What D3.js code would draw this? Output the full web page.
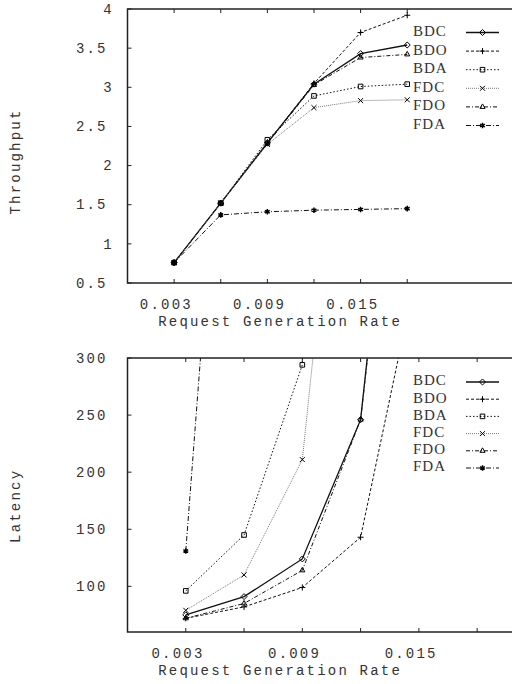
<!DOCTYPE html>
<html>
<head>
<meta charset="utf-8">
<script src="https://cdn.jsdelivr.net/npm/d3@7"></script>
<style>
  html, body { margin: 0; padding: 0; background: #fff; }
  svg { display: block; }
  .mono { font-family: "Liberation Mono", "DejaVu Sans Mono", monospace; font-size: 14px; letter-spacing: 2.2px; fill: #333; }
  .leg { font-family: "Liberation Serif", "DejaVu Serif", serif; font-size: 15px; letter-spacing: 1px; fill: #333; }
</style>
</head>
<body>
<svg id="chart" width="512" height="684"></svg>
<script>
// Request generation rates (x values shared by both panels)
const rates = [0.003, 0.006, 0.009, 0.012, 0.015, 0.018];
const seriesNames = ["BDC", "BDO", "BDA", "FDC", "FDO", "FDA"];

// Throughput per scheme
const thrBDC = [0.76, 1.52, 2.29, 3.04, 3.43, 3.54];
const thrBDO = [0.76, 1.52, 2.29, 3.05, 3.70, 3.92];
const thrBDA = [0.76, 1.52, 2.33, 2.89, 3.01, 3.04];
const thrFDC = [0.76, 1.52, 2.27, 2.74, 2.83, 2.84];
const thrFDO = [0.76, 1.52, 2.28, 3.03, 3.38, 3.42];
const thrFDA = [0.76, 1.37, 1.41, 1.43, 1.44, 1.45];

// Latency per scheme (values past the top of the axis run off the panel)
const latBDC = [75, 91, 124, 246, 720];
const latBDO = [72, 82, 99, 143, 385];
const latBDA = [96, 145, 294, 1500];
const latFDC = [79, 110, 211, 700];
const latFDO = [72, 85, 114, 246, 700];
const latFDA = [131, 800];

// Tick values and labels
const xTickVals = [0.003, 0.006, 0.009, 0.012, 0.015, 0.018];
const xTickLabels = ["0.003", "", "0.009", "", "0.015", ""];
const thrTicks = [0.5, 1, 1.5, 2, 2.5, 3, 3.5, 4];
const thrTickLabels = ["0.5", "1", "1.5", "2", "2.5", "3", "3.5", "4"];
const latTicks = [100, 150, 200, 250, 300];
const latTickLabels = ["100", "150", "200", "250", "300"];

const svg = d3.select("#chart");

// Line style and marker per scheme
const styles = {
  BDC: { dash: null, color: "#111", width: 1.3, sym: d3.symbolDiamond2, size: 23 },
  BDO: { dash: "3,2", color: "#111", width: 1, sym: d3.symbolPlus, size: 14 },
  BDA: { dash: "1.5,2", color: "#111", width: 1, sym: d3.symbolSquare2, size: 27 },
  FDC: { dash: "1,1", color: "#777", width: 1, sym: d3.symbolTimes, size: 18 },
  FDO: { dash: "4,2,1,2", color: "#111", width: 1, sym: d3.symbolTriangle2, size: 19 },
  FDA: { dash: "5,2,1,2", color: "#111", width: 1, sym: d3.symbolAsterisk, size: 21 }
};

const CH = 13.7; // nominal character cell used to place labels

function panel(opts) {
  const { x0, x1, y0, y1, xMax, yDomain, yTicks, yLabels, series, yTitle, legendY, legendStep, id } = opts;
  const x = d3.scaleLinear().domain([0, xMax]).range([x0, x1]);
  const y = d3.scaleLinear().domain(yDomain).range([y1, y0]);
  const g = svg.append("g");

  g.append("clipPath").attr("id", id).append("rect")
    .attr("x", x0).attr("y", y0).attr("width", x1 - x0).attr("height", y1 - y0);

  // ticks on all four sides, pointing inward
  const tl = 4;
  xTickVals.forEach(v => {
    g.append("line").attr("x1", x(v)).attr("x2", x(v)).attr("y1", y1).attr("y2", y1 - tl).attr("stroke", "#222");
    g.append("line").attr("x1", x(v)).attr("x2", x(v)).attr("y1", y0).attr("y2", y0 + tl).attr("stroke", "#222");
  });
  yTicks.forEach(v => {
    g.append("line").attr("x1", x0).attr("x2", x0 + tl).attr("y1", y(v)).attr("y2", y(v)).attr("stroke", "#222");
    g.append("line").attr("x1", x1).attr("x2", x1 - tl).attr("y1", y(v)).attr("y2", y(v)).attr("stroke", "#222");
  });

  // tick labels
  xTickVals.forEach((v, i) => {
    const t = xTickLabels[i];
    if (!t) return;
    g.append("text").attr("class", "mono")
      .attr("x", x(v) - t.length * CH / 2).attr("y", y1 + 22)
      .attr("dominant-baseline", "middle").text(t);
  });
  yTicks.forEach((v, i) => {
    const t = yLabels[i];
    g.append("text").attr("class", "mono")
      .attr("x", 117 - t.length * CH).attr("y", y(v) + 1)
      .attr("dominant-baseline", "middle").text(t);
  });

  // axis titles
  const xt = "Request Generation Rate";
  g.append("text").attr("class", "mono")
    .attr("x", (x0 + x1) / 2 - xt.length * CH / 2 - 6).attr("y", y1 + 39)
    .attr("dominant-baseline", "middle").text(xt);
  const cy = (y0 + y1) / 2;
  g.append("text").attr("class", "mono")
    .attr("transform", `translate(16,${cy + yTitle.length * CH / 2}) rotate(-90)`)
    .attr("dominant-baseline", "middle").text(yTitle);

  // series lines and markers
  const plot = g.append("g").attr("clip-path", `url(#${id})`);
  const line = d3.line().x(d => x(d[0])).y(d => y(d[1]));
  seriesNames.forEach((name, si) => {
    const st = styles[name];
    const pts = series[si].map((v, i) => [rates[i], v]);
    plot.append("path").datum(pts).attr("d", line)
      .attr("fill", "none").attr("stroke", st.color).attr("stroke-width", st.width)
      .attr("stroke-dasharray", st.dash);
    plot.selectAll(null).data(pts).join("path")
      .attr("transform", d => `translate(${x(d[0])},${y(d[1])})`)
      .attr("d", d3.symbol(st.sym, st.size)())
      .attr("fill", "none").attr("stroke", "#000").attr("stroke-width", name === "FDA" ? 1.5 : 1);
  });

  // legend
  seriesNames.forEach((name, i) => {
    const st = styles[name];
    const ly = legendY + i * legendStep;
    g.append("text").attr("class", "leg").attr("x", 413).attr("y", ly)
      .attr("dominant-baseline", "middle").text(name);
    g.append("line").attr("x1", 466).attr("x2", 499).attr("y1", ly).attr("y2", ly)
      .attr("stroke", st.color).attr("stroke-width", st.width).attr("stroke-dasharray", st.dash);
    g.append("path").attr("transform", `translate(482.5,${ly})`)
      .attr("d", d3.symbol(st.sym, st.size)())
      .attr("fill", "none").attr("stroke", "#000").attr("stroke-width", name === "FDA" ? 1.5 : 1);
  });

  // frame
  g.append("rect").attr("x", x0).attr("y", y0).attr("width", x1 - x0).attr("height", y1 - y0)
    .attr("fill", "none").attr("stroke", "#222").attr("stroke-width", 1.5);
}

panel({
  id: "clipTop", x0: 127.5, x1: 516, y0: 9, y1: 283, xMax: 0.025,
  yDomain: [0.5, 4], yTicks: thrTicks, yLabels: thrTickLabels,
  series: [thrBDC, thrBDO, thrBDA, thrFDC, thrFDO, thrFDA],
  yTitle: "Throughput", legendY: 32.5, legendStep: 18.6
});

panel({
  id: "clipBottom", x0: 127.5, x1: 516, y0: 358, y1: 632, xMax: 0.02,
  yDomain: [60, 300], yTicks: latTicks, yLabels: latTickLabels,
  series: [latBDC, latBDO, latBDA, latFDC, latFDO, latFDA],
  yTitle: "Latency", legendY: 382, legendStep: 17.2
});
</script>
</body>
</html>
